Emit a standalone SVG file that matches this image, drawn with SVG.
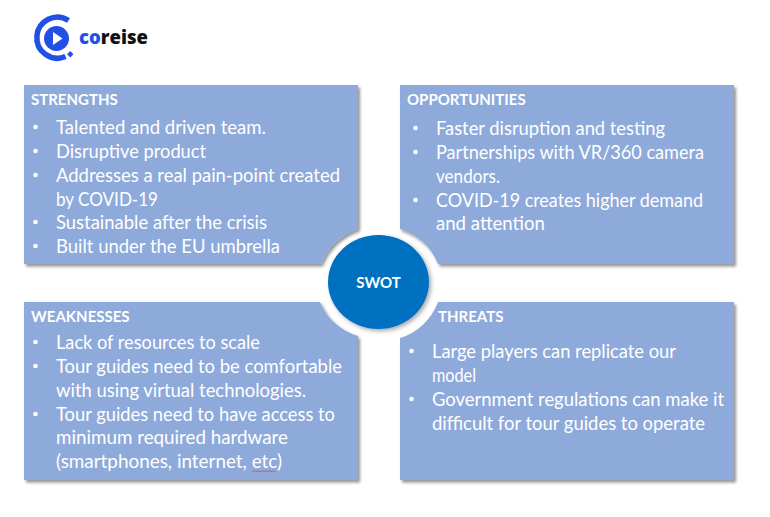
<svg xmlns="http://www.w3.org/2000/svg" width="770" height="517" viewBox="0 0 770 517">
<style>
text{font-family:"Lato","Carlito","Liberation Sans",sans-serif;fill:#fff}
.h{font-size:15px;font-weight:700}
.t{font-size:18.45px}
.p{fill:#8eaadb;filter:url(#s)}
.b{fill:#fff}
</style>
<defs>
<filter id="s" x="-5%" y="-5%" width="112%" height="112%"><feDropShadow dx="2" dy="2.500" stdDeviation="1.6" flood-color="#000" flood-opacity=".42"/></filter>
<filter id="c" x="-20%" y="-20%" width="140%" height="140%"><feDropShadow dx="2" dy="2" stdDeviation="2" flood-color="#000" flood-opacity=".35"/></filter>
</defs>
<rect width="770" height="517" fill="#fff"/>
<g id="logo">
<path d="M68.500 20.500A20.500 20.500 0 1 0 65.500 56.500" fill="none" stroke="#2250e6" stroke-width="5.500"/>
<circle cx="56.500" cy="38.500" r="12.500" fill="#2250e6"/>
<path d="M53 32L62.500 38.500L53 45Z" fill="#fff"/>
<rect x="68" y="52" width="4.500" height="4.500" transform="rotate(45 70.250 54.250)" fill="#2250e6"/>
<text x="79" y="44" textLength="69" lengthAdjust="spacingAndGlyphs" style="font-family:'Open Sans','Liberation Sans',sans-serif;font-size:20px;font-weight:800;fill:#111"><tspan style="fill:#2250e6">co</tspan>reise</text>
</g>
<g id="strengths">
<path class="p" d="M24 85H358V229A59 59 0 0 0 321 264H24Z"/>
<text class="h" x="31" y="105">STRENGTHS</text>
<circle class="b" cx="35.500" cy="127" r="2.300"/><text class="t" x="56" y="133.700" textLength="210" lengthAdjust="spacingAndGlyphs">Talented and driven team.</text>
<circle class="b" cx="35.500" cy="151" r="2.300"/><text class="t" x="56" y="157.700" textLength="150" lengthAdjust="spacingAndGlyphs">Disruptive product</text>
<circle class="b" cx="35.500" cy="175" r="2.300"/><text class="t" x="56" y="181.700" textLength="284" lengthAdjust="spacingAndGlyphs">Addresses a real pain-point created</text>
<text class="t" x="56" y="205.700" textLength="102" lengthAdjust="spacingAndGlyphs">by COVID-19</text>
<circle class="b" cx="35.500" cy="222" r="2.300"/><text class="t" x="56" y="228.700" textLength="211" lengthAdjust="spacingAndGlyphs">Sustainable after the crisis</text>
<circle class="b" cx="35.500" cy="246" r="2.300"/><text class="t" x="56" y="252.700" textLength="224" lengthAdjust="spacingAndGlyphs">Built under the EU umbrella</text>
</g>
<g id="opportunities">
<path class="p" d="M400 85H734V264H438A59 59 0 0 0 400 229Z"/>
<text class="h" x="407" y="105">OPPORTUNITIES</text>
<circle class="b" cx="415.500" cy="128" r="2.300"/><text class="t" x="436" y="134.500" textLength="229" lengthAdjust="spacingAndGlyphs">Faster disruption and testing</text>
<circle class="b" cx="415.500" cy="152" r="2.300"/><text class="t" x="436" y="158.500" textLength="268" lengthAdjust="spacingAndGlyphs">Partnerships with VR/360 camera</text>
<text class="t" x="436" y="182.500" textLength="64" lengthAdjust="spacingAndGlyphs">vendors.</text>
<circle class="b" cx="415.500" cy="200" r="2.300"/><text class="t" x="436" y="206.500" textLength="267" lengthAdjust="spacingAndGlyphs">COVID-19 creates higher demand</text>
<text class="t" x="436" y="229.500" textLength="109" lengthAdjust="spacingAndGlyphs">and attention</text>
</g>
<g id="weaknesses">
<path class="p" d="M24 302H320A59 59 0 0 0 358 336V480H24Z"/>
<text class="h" x="31" y="322">WEAKNESSES</text>
<circle class="b" cx="35.500" cy="342" r="2.300"/><text class="t" x="56" y="348.500" textLength="204" lengthAdjust="spacingAndGlyphs">Lack of resources to scale</text>
<circle class="b" cx="35.500" cy="366" r="2.300"/><text class="t" x="56" y="372.500" textLength="286" lengthAdjust="spacingAndGlyphs">Tour guides need to be comfortable</text>
<text class="t" x="56" y="396.500" textLength="250" lengthAdjust="spacingAndGlyphs">with using virtual technologies.</text>
<circle class="b" cx="35.500" cy="414" r="2.300"/><text class="t" x="56" y="420.500" textLength="279" lengthAdjust="spacingAndGlyphs">Tour guides need to have access to</text>
<text class="t" x="56" y="443.500" textLength="232" lengthAdjust="spacingAndGlyphs">minimum required hardware</text>
<text class="t" x="56" y="467.500" textLength="226" lengthAdjust="spacingAndGlyphs">(smartphones, internet, etc)</text>
<path d="M252 472l2-1.500 2 1.500 2-1.500 2 1.500 2-1.500 2 1.500 2-1.500 2 1.500 2-1.500 2 1.500 2-1.500 2 1.500" fill="none" stroke="#c0504d" stroke-width=".8"/>
</g>
<g id="threats">
<path class="p" d="M438 302H734V480H400V338A59 59 0 0 0 438 302Z"/>
<text class="h" x="438" y="322">THREATS</text>
<circle class="b" cx="411.500" cy="351" r="2.300"/><text class="t" x="432" y="357.500" textLength="244" lengthAdjust="spacingAndGlyphs">Large players can replicate our</text>
<text class="t" x="432" y="381.500" textLength="44" lengthAdjust="spacingAndGlyphs">model</text>
<circle class="b" cx="411.500" cy="399" r="2.300"/><text class="t" x="432" y="405.500" textLength="292" lengthAdjust="spacingAndGlyphs">Government regulations can make it</text>
<text class="t" x="432" y="429.500" textLength="273" lengthAdjust="spacingAndGlyphs">difficult for tour guides to operate</text>
</g>
<g id="swot">
<ellipse cx="378.500" cy="282" rx="50.500" ry="47" fill="#0070c0" filter="url(#c)"/>
<text x="378.500" y="288" text-anchor="middle" style="font-size:15px;font-weight:700">SWOT</text>
</g>
<g id="connectors"/>
</svg>
